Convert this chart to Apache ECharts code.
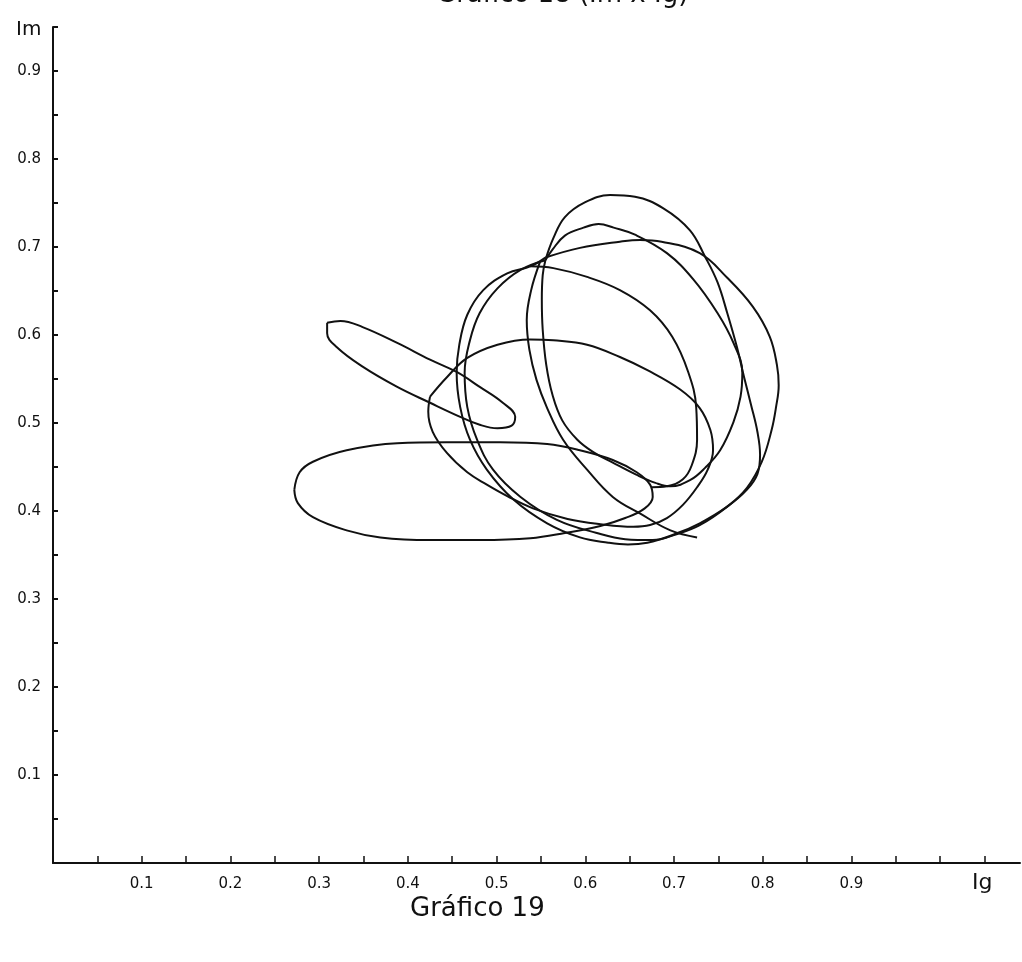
<!DOCTYPE html>
<html>
<head>
<meta charset="utf-8">
<script src="https://cdn.jsdelivr.net/npm/echarts@6/dist/echarts.min.js"></script>
<style>
  html, body { margin: 0; background: #fff; }
  #chart { width: 1022px; height: 962px; }
</style>
</head>
<body>
<div id="chart"></div>
<script>
// tick labels
const xTickLabels = ['0.1', '0.2', '0.3', '0.4', '0.5', '0.6', '0.7', '0.8', '0.9'];
const yTickLabels = ['0.1', '0.2', '0.3', '0.4', '0.5', '0.6', '0.7', '0.8', '0.9'];

// traced strokes of the Ig / Im curve, [Ig, Im]
const flatLoop = [
  [0.272, 0.424], [0.278, 0.444], [0.293, 0.456], [0.331, 0.469], [0.388, 0.477],
  [0.444, 0.478], [0.504, 0.478], [0.557, 0.476], [0.594, 0.469], [0.631, 0.458],
  [0.658, 0.444], [0.673, 0.430], [0.676, 0.416], [0.667, 0.403], [0.645, 0.392],
  [0.617, 0.383], [0.577, 0.375], [0.538, 0.369], [0.481, 0.367], [0.425, 0.367],
  [0.369, 0.370], [0.331, 0.378], [0.293, 0.393], [0.276, 0.409], [0.272, 0.424]
];
const thinLoop = [
  [0.309, 0.614], [0.324, 0.616], [0.349, 0.609], [0.388, 0.591], [0.425, 0.572],
  [0.455, 0.558], [0.481, 0.541], [0.507, 0.523], [0.521, 0.507], [0.517, 0.497],
  [0.501, 0.494], [0.481, 0.498], [0.459, 0.507], [0.425, 0.523], [0.388, 0.541],
  [0.349, 0.564], [0.320, 0.586], [0.309, 0.602], [0.309, 0.614]
];
const midLoop = [
  [0.425, 0.530], [0.444, 0.552], [0.467, 0.574], [0.501, 0.589], [0.538, 0.595],
  [0.564, 0.594], [0.602, 0.589], [0.639, 0.575], [0.670, 0.560], [0.707, 0.538],
  [0.729, 0.517], [0.741, 0.492], [0.744, 0.469], [0.738, 0.447], [0.726, 0.427],
  [0.710, 0.407], [0.692, 0.392], [0.673, 0.384], [0.654, 0.382], [0.617, 0.385],
  [0.580, 0.391], [0.541, 0.403], [0.512, 0.417], [0.489, 0.430], [0.467, 0.444],
  [0.444, 0.466], [0.428, 0.490], [0.423, 0.513], [0.425, 0.530]
];
const loopA = [
  [0.555, 0.685], [0.564, 0.710], [0.577, 0.734], [0.600, 0.751], [0.628, 0.759],
  [0.656, 0.757], [0.688, 0.744], [0.718, 0.719], [0.735, 0.689], [0.749, 0.660],
  [0.760, 0.625], [0.771, 0.586], [0.779, 0.552], [0.787, 0.520], [0.794, 0.490],
  [0.797, 0.464], [0.794, 0.442], [0.782, 0.424], [0.760, 0.405], [0.729, 0.386],
  [0.704, 0.375], [0.676, 0.367], [0.645, 0.368], [0.613, 0.375], [0.568, 0.390],
  [0.527, 0.416], [0.496, 0.447], [0.478, 0.481], [0.467, 0.518], [0.464, 0.557],
  [0.470, 0.594], [0.481, 0.625], [0.501, 0.653], [0.527, 0.674], [0.555, 0.685]
];
const loopB = [
  [0.555, 0.685], [0.563, 0.697], [0.577, 0.713], [0.598, 0.722], [0.615, 0.726],
  [0.632, 0.722], [0.656, 0.714], [0.692, 0.693], [0.722, 0.663], [0.749, 0.625],
  [0.767, 0.591], [0.777, 0.557], [0.775, 0.530], [0.767, 0.501], [0.752, 0.469],
  [0.735, 0.449], [0.718, 0.435], [0.696, 0.428], [0.679, 0.432], [0.658, 0.441],
  [0.631, 0.455], [0.609, 0.467], [0.591, 0.481], [0.574, 0.503], [0.563, 0.532],
  [0.556, 0.566], [0.552, 0.606], [0.551, 0.640], [0.552, 0.668], [0.555, 0.685]
];
const loopC = [
  [0.555, 0.688], [0.594, 0.699], [0.639, 0.706], [0.662, 0.708], [0.686, 0.706],
  [0.729, 0.693], [0.760, 0.665], [0.789, 0.632], [0.808, 0.598], [0.816, 0.566],
  [0.818, 0.543], [0.815, 0.518], [0.810, 0.492], [0.799, 0.456], [0.782, 0.426],
  [0.760, 0.405], [0.729, 0.384], [0.701, 0.373], [0.670, 0.364], [0.648, 0.362],
  [0.626, 0.364], [0.594, 0.370], [0.557, 0.386], [0.519, 0.413], [0.489, 0.447],
  [0.470, 0.481], [0.459, 0.518], [0.455, 0.557], [0.458, 0.589], [0.467, 0.623],
  [0.485, 0.651], [0.512, 0.670], [0.538, 0.678], [0.555, 0.688]
];
const loopD = [
  [0.538, 0.678], [0.564, 0.676], [0.602, 0.666], [0.639, 0.651], [0.673, 0.628],
  [0.698, 0.598], [0.716, 0.558], [0.725, 0.518], [0.726, 0.481], [0.720, 0.452],
  [0.710, 0.436], [0.692, 0.428], [0.675, 0.427]
];
const strokeE = [
  [0.549, 0.683], [0.539, 0.651], [0.534, 0.617], [0.537, 0.583], [0.545, 0.549],
  [0.557, 0.517], [0.575, 0.481], [0.602, 0.447], [0.631, 0.416], [0.662, 0.397],
  [0.696, 0.378], [0.726, 0.370]
];

const ink = '#111';
const paths = [flatLoop, thinLoop, midLoop, loopA, loopB, loopC, loopD, strokeE];

function tickLabel(list) {
  return function (v) {
    const r = Math.round(v * 10) / 10;
    if (Math.abs(v - r) > 1e-6) return '';
    const s = r.toFixed(1);
    return list.indexOf(s) >= 0 ? s : '';
  };
}

const chart = echarts.init(document.getElementById('chart'));
chart.setOption({
  animation: false,
  textStyle: { fontFamily: 'DejaVu Sans' },
  grid: { left: 53, right: 2, top: 27, bottom: 99 },
  xAxis: {
    type: 'value',
    min: 0,
    max: 1.09,
    interval: 0.05,
    axisLine: { lineStyle: { color: ink, width: 2 } },
    axisTick: { inside: true, length: 7, lineStyle: { color: ink, width: 1.5 } },
    axisLabel: { formatter: tickLabel(xTickLabels), color: ink, fontSize: 15, margin: 14, showMaxLabel: false },
    splitLine: { show: false }
  },
  yAxis: {
    type: 'value',
    min: 0,
    max: 0.95,
    interval: 0.05,
    axisLine: { lineStyle: { color: ink, width: 2 } },
    axisTick: { inside: true, length: 5, lineStyle: { color: ink, width: 2 } },
    axisLabel: { formatter: tickLabel(yTickLabels), color: ink, fontSize: 15, margin: 12 },
    splitLine: { show: false }
  },
  graphic: [
    { type: 'text', left: 16, top: 20, style: { text: 'Im', fontSize: 20, fill: ink, fontFamily: 'DejaVu Sans' } },
    { type: 'text', left: 972, top: 872, style: { text: 'Ig', fontSize: 22, fill: ink, fontFamily: 'DejaVu Sans' } },
    { type: 'text', left: 410, top: 896, style: { text: 'Gráfico 19', fontSize: 26, fill: ink, fontFamily: 'DejaVu Sans' } },
    { type: 'text', left: 436, top: -18, style: { text: 'Gráfico 18 (Im x Ig)', fontSize: 26, fill: ink, fontFamily: 'DejaVu Sans' } }
  ],
  series: paths.map(function (p) {
    return {
      type: 'line',
      data: p,
      showSymbol: false,
      smooth: 0.4,
      silent: true,
      lineStyle: { color: ink, width: 2 }
    };
  })
});
</script>
</body>
</html>
